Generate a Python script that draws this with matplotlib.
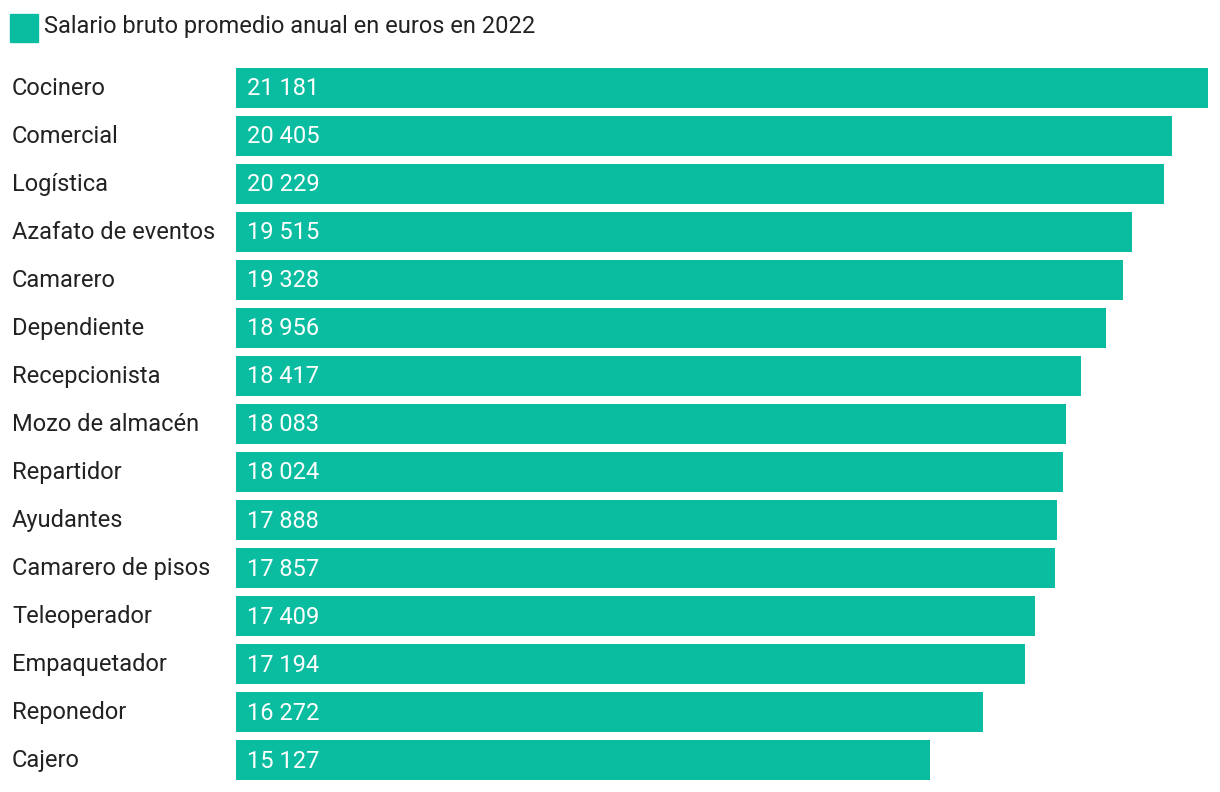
import matplotlib.pyplot as plt

plt.rcParams["font.family"] = ["Roboto", "DejaVu Sans"]

jobs = ["Cocinero", "Comercial", "Logística", "Azafato de eventos", "Camarero",
        "Dependiente", "Recepcionista", "Mozo de almacén", "Repartidor",
        "Ayudantes", "Camarero de pisos", "Teleoperador", "Empaquetador",
        "Reponedor", "Cajero"]
salaries = [21181, 20405, 20229, 19515, 19328, 18956, 18417, 18083, 18024,
            17888, 17857, 17409, 17194, 16272, 15127]
legend_label = "Salario bruto promedio anual en euros en 2022"

BAR_COLOR = "#0bbda0"
W, H = 1220, 792
FS = 17

fig = plt.figure(figsize=(W / 100, H / 100), dpi=100)
ax = fig.add_axes([236 / W, 1 - 780 / H, (1208 - 236) / W, (780 - 68) / H])

n = len(jobs)
h = 40 / 48
ax.barh(range(n), salaries, height=h, color=BAR_COLOR)
ax.set_xlim(0, max(salaries))
ax.set_ylim(n - 1 + h / 2, -h / 2)
ax.axis("off")

for i, (job, val) in enumerate(zip(jobs, salaries)):
    ax.annotate(job, (0, i), xytext=(-224, -1), textcoords="offset pixels",
                ha="left", va="center", fontsize=FS, color="#222222")
    ax.annotate(f"{val:,}".replace(",", " "), (0, i), xytext=(11, -1),
                textcoords="offset pixels", ha="left", va="center",
                fontsize=FS, color="white")

# legend swatch and label
fig.patches.append(plt.Rectangle((10 / W, 1 - 42 / H), 28 / W, 28 / H,
                                 transform=fig.transFigure, color=BAR_COLOR))
fig.text(44 / W, 1 - 27 / H, legend_label, ha="left", va="center",
         fontsize=FS, color="#222222")

fig.savefig("out.png", dpi=100, facecolor="white")
